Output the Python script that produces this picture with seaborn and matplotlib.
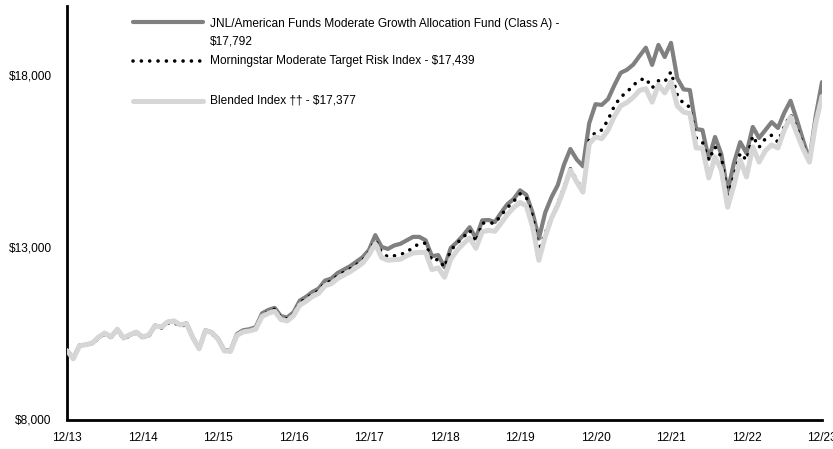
import numpy as np
import pandas as pd
import matplotlib
matplotlib.use("Agg")
import matplotlib.pyplot as plt
from matplotlib.lines import Line2D
import seaborn as sns

# ---- data (monthly, 12/13 .. 12/23) ----
x_tick_labels = ["12/13", "12/14", "12/15", "12/16", "12/17", "12/18",
                 "12/19", "12/20", "12/21", "12/22", "12/23"]
y_ticks = [8000, 13000, 18000]

fund = [10000, 9780, 10150, 10170, 10210, 10380, 10500, 10390, 10620, 10360, 10450, 10530,
        10390, 10440, 10730, 10680, 10830, 10860, 10740, 10790, 10380, 10060, 10590, 10530,
        10350, 10010, 10000, 10480, 10590, 10620, 10680, 11080, 11180, 11240, 11000, 10960,
        11110, 11450, 11560, 11700, 11800, 12030, 12090, 12250, 12350, 12450, 12580, 12710,
        12920, 13350, 13010, 12950, 13050, 13100, 13200, 13300, 13300, 13200, 12740, 12770,
        12420, 12980, 13150, 13350, 13580, 13260, 13780, 13790, 13730, 14000, 14250, 14400,
        14650, 14520, 14000, 13250, 14000, 14450, 14800, 15400, 15850, 15550, 15350, 16600,
        17150, 17130, 17300, 17700, 18060, 18150, 18300, 18550, 18790, 18290, 18870, 18520,
        18930, 17900, 17580, 17560, 16430, 16400, 15560, 16200, 15700, 14620, 15440, 16050,
        15730, 16490, 16170, 16400, 16630, 16460, 16900, 17250, 16700, 16100, 15530, 16800,
        17792]

morningstar = [10000, 9790, 10140, 10160, 10200, 10360, 10480, 10380, 10590, 10350, 10430, 10510,
               10380, 10420, 10700, 10650, 10790, 10820, 10700, 10760, 10360, 10050, 10560, 10490,
               10320, 9990, 9970, 10450, 10560, 10590, 10650, 11030, 11120, 11200, 10960, 10920,
               11060, 11390, 11500, 11640, 11730, 11960, 12010, 12170, 12270, 12370, 12490, 12620,
               12850, 13200, 12850, 12720, 12750, 12790, 12850, 13000, 13100, 13120, 12600, 12650,
               12420, 12910, 13120, 13290, 13490, 13150, 13700, 13700, 13700, 13930, 14150, 14330,
               14550, 14450, 13900, 12900, 13400, 13850, 14250, 14750, 15280, 14950, 14650, 16100,
               16340, 16400, 16700, 17100, 17360, 17500, 17700, 17850, 17900, 17620, 17830, 17800,
               18090, 17420, 17160, 17070, 16170, 16050, 15530, 15910, 15620, 14510, 15050, 15730,
               15530, 16230, 15900, 16150, 16250, 16050, 16500, 16850, 16450, 15950, 15520, 16650,
               17439]

blended = [10000, 9760, 10140, 10170, 10220, 10390, 10510, 10400, 10620, 10370, 10460, 10540,
           10400, 10450, 10720, 10680, 10830, 10860, 10750, 10780, 10370, 10050, 10580, 10520,
           10330, 9990, 9980, 10440, 10540, 10570, 10620, 10990, 11080, 11140, 10900, 10860,
           11010, 11320, 11430, 11570, 11660, 11880, 11940, 12090, 12190, 12290, 12410, 12540,
           12780, 13100, 12700, 12620, 12640, 12650, 12750, 12830, 12850, 12850, 12350, 12400,
           12130, 12650, 12910, 13100, 13270, 12970, 13450, 13490, 13460, 13700, 13950, 14150,
           14300, 14200, 13600, 12620, 13300, 13840, 14220, 14700, 15240, 14900, 14600, 16000,
           16200, 16150, 16400, 16800, 17100, 17200, 17350, 17550, 17600, 17210, 17710, 17480,
           17800, 17100, 16920, 16880, 15880, 15880, 15010, 15620, 15240, 14160, 14800, 15530,
           15040, 15910, 15470, 15800, 15970, 15880, 16400, 16780, 16300, 15850, 15470, 16600,
           17377]

labels = ["JNL/American Funds Moderate Growth Allocation Fund (Class A) -",
          "$17,792",
          "Morningstar Moderate Target Risk Index - $17,439",
          "Blended Index \u2020\u2020 - $17,377"]

months = np.arange(len(fund))
df = pd.DataFrame({"m": months, "fund": fund, "ms": morningstar, "bl": blended})

# ---- style ----
sns.set_style("white")
plt.rcParams["font.family"] = ["Liberation Sans", "DejaVu Sans"]

FUND_C = "#808080"
BL_C = "#d6d6d6"
FUND_LW = 3.0
BL_LW = 3.6
DOT_LW = 2.6
DOT_DASH = (0, (0.01, 2.3))
FS = 8.6

W, H = 833, 449
fig = plt.figure(figsize=(W / 100, H / 100), dpi=100)
ax = fig.add_axes([67 / W, 1 - 419.5 / H, (822 - 67) / W, (419.5 - 6) / H])

sns.lineplot(data=df, x="m", y="fund", ax=ax, color=FUND_C, lw=FUND_LW, zorder=2)
sns.lineplot(data=df, x="m", y="ms", ax=ax, color="black", lw=DOT_LW,
             linestyle=DOT_DASH, dash_capstyle="round", zorder=3)
sns.lineplot(data=df, x="m", y="bl", ax=ax, color=BL_C, lw=BL_LW, zorder=4)

ax.set_xlim(0, 120)
ax.set_ylim(8000, 20000)
ax.set_xticks(np.arange(0, 121, 12))
ax.set_xticklabels(x_tick_labels)
ax.set_yticks(y_ticks)
ax.set_yticklabels([f"${v:,.0f}" for v in y_ticks])
ax.set_xlabel("")
ax.set_ylabel("")

for s in ["top", "right"]:
    ax.spines[s].set_visible(False)
for s in ["left", "bottom"]:
    ax.spines[s].set_color("black")
    ax.spines[s].set_linewidth(2.0)

ax.tick_params(axis="y", direction="in", length=3, width=1.5, pad=11,
               labelsize=FS, colors="black")
ax.tick_params(axis="x", length=0, pad=9, labelsize=FS, colors="black")
ax.grid(False)

# ---- legend (manual, to keep handle aligned with first text line) ----
def fy(px):
    return 1 - px / H

hx0, hx1, tx = 133 / W, 203 / W, 210 / W
fig.add_artist(Line2D([hx0, hx1], [fy(21.5), fy(21.5)], color=FUND_C, lw=FUND_LW,
                      transform=fig.transFigure))
fig.add_artist(Line2D([hx0, hx1], [fy(61), fy(61)], color="black", lw=DOT_LW,
                      linestyle=DOT_DASH, dash_capstyle="round",
                      transform=fig.transFigure))
fig.add_artist(Line2D([hx0, hx1], [fy(100.5), fy(100.5)], color=BL_C, lw=BL_LW,
                      transform=fig.transFigure))
for txt, ypx in zip(labels, [23.5, 41.5, 61, 100.5]):
    fig.text(tx, fy(ypx), txt, ha="left", va="center", fontsize=FS, color="black")

fig.savefig("out.png", dpi=100)
